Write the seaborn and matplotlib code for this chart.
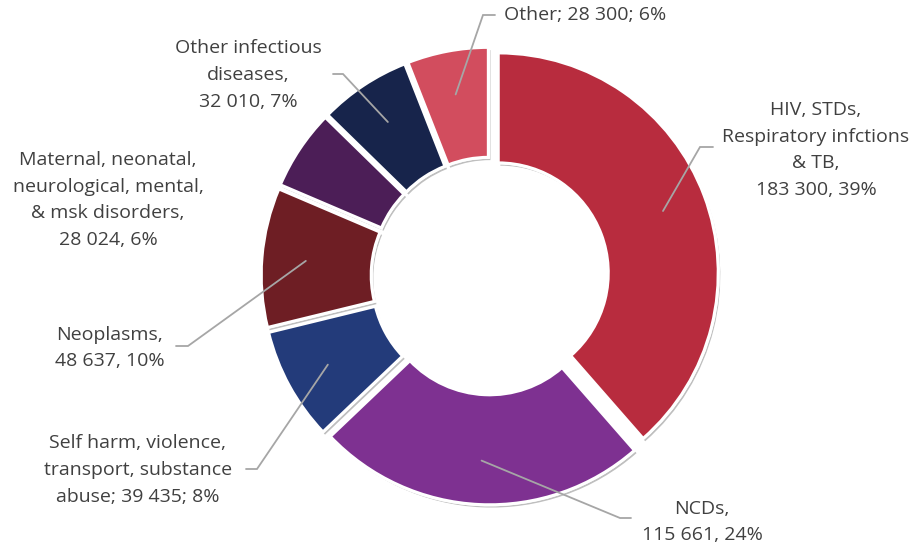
import numpy as np
import matplotlib
matplotlib.use("Agg")
import matplotlib.pyplot as plt
import matplotlib.patheffects as pe
import seaborn as sns

# ---- data ----
categories = [
    "HIV, STDs,\nRespiratory infctions\n& TB,\n183 300, 39%",
    "NCDs,\n115 661, 24%",
    "Self harm, violence,\ntransport, substance\nabuse; 39 435; 8%",
    "Neoplasms,\n48 637, 10%",
    "Maternal, neonatal,\nneurological, mental,\n& msk disorders,\n28 024, 6%",
    "Other infectious\ndiseases,\n32 010, 7%",
    "Other; 28 300; 6%",
]
values = [183300, 115661, 39435, 48637, 28024, 32010, 28300]
colors = ["#B82C3E", "#7E3191", "#233B7A", "#6E1E24", "#4C1E57", "#17244B", "#D24D5E"]

# ---- layout (pixels of a 916x545 canvas) ----
W, H = 916, 545
CX, CY = 490, 276       # donut centre, from top
SCALE = 220.0           # pixels per radius unit

def px(x, y):
    return ((x - CX) / SCALE, (CY - y) / SCALE)

sns.set_theme(style="white")
plt.rcParams["font.family"] = ["Open Sans", "DejaVu Sans"]

fig = plt.figure(figsize=(W / 100, H / 100), dpi=100)
ax = fig.add_axes([0, 0, 1, 1])

pal = sns.color_palette(colors)
wedges, _ = ax.pie(
    values, colors=pal, startangle=90, counterclock=False,
    radius=1.0, explode=[0.04] * len(values),
    wedgeprops=dict(width=0.5, edgecolor="white", linewidth=2.2),
)
for w in wedges:
    w.set_path_effects([pe.withSimplePatchShadow(offset=(1.5, -2), shadow_rgbFace="black", alpha=0.25),
                        pe.Normal()])

ax.set_xlim(px(0, 0)[0], px(W, 0)[0])
ax.set_ylim(px(0, H)[1], px(0, 0)[1])
ax.set_aspect("equal", adjustable="datalim")
ax.axis("off")

# label placement: (text x, text y, ha, elbow, line end x) in pixels; None = no leader
label_pos = [
    (816, 150, "center", (700, 147), 713),
    (702, 522, "center", (620, 518), 631),
    (138, 470, "center", (257, 469), 246),
    (110, 348, "center", (188, 346), 176),
    (108, 200, "center", None, None),
    (248, 75, "center", (343, 74), 333),
    (504, 15, "left", (483, 15), 495),
]

text_color = "#404040"
line_color = "#A6A6A6"
for w, lab, (tx, ty, ha, elbow, lend) in zip(wedges, categories, label_pos):
    ang = np.deg2rad((w.theta1 + w.theta2) / 2)
    cx, cy = w.center
    ax.text(*px(tx, ty), lab, ha=ha, va="center", fontsize=14,
            color=text_color, linespacing=1.63, multialignment="center")
    if elbow is not None:
        a = (cx + 0.8 * np.cos(ang), cy + 0.8 * np.sin(ang))
        e = px(*elbow)
        l = px(lend, elbow[1])
        ax.plot([a[0], e[0], l[0]], [a[1], e[1], l[1]], color=line_color, lw=1.3,
                solid_joinstyle="miter", zorder=5)

fig.savefig("out.png", dpi=100, facecolor="white")
